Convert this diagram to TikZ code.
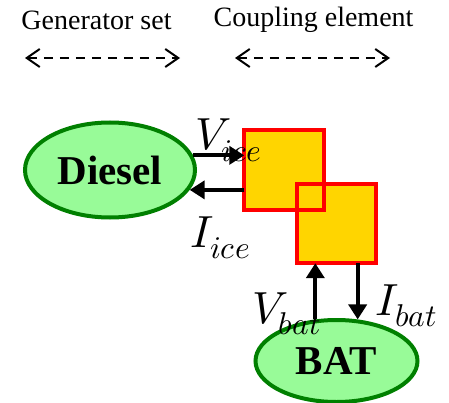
\documentclass[tikz,border=0pt]{standalone}
\usepackage{fontspec,unicode-math}
\setmainfont{Liberation Serif}
\usetikzlibrary{arrows.meta,positioning,shapes.geometric}
\definecolor{engedge}{RGB}{0,128,0}
\definecolor{engfill}{RGB}{152,251,152}
\definecolor{boxfill}{RGB}{255,213,0}
\tikzset{
  source/.style={ellipse,draw=engedge,fill=engfill,line width=4pt,inner sep=0pt,
    font=\rmfamily\fontsize{41}{41}\selectfont\bfseries},
  coupler/.style={rectangle,fill=boxfill,minimum size=79pt,inner sep=0pt},
  couplerline/.style={draw=red,line width=4pt},
  flow/.style={-{Triangle[length=15pt,width=18pt]},line width=4pt},
  span/.style={{Straight Barb[length=13pt,width=18pt]}-{Straight Barb[length=13pt,width=18pt]},
    line width=2pt,dash pattern=on 9pt off 7pt},
  caption/.style={font=\rmfamily\fontsize{28}{28}\selectfont,inner sep=0pt,anchor=base},
  signal/.style={font=\fontsize{45}{45}\selectfont,inner sep=0pt,anchor=base west}
}
\begin{document}
\begin{tikzpicture}[x=1pt,y=1pt]
 \useasboundingbox (0,0) rectangle (449,402);
 % headings
 \node[caption] (gentxt) at (96.5,372) {Generator set};
 \node[caption] (couptxt) at (313.5,375) {Coupling element};
 \coordinate (genl) at (25,344);
 \coordinate (genr) at (180,344);
 \coordinate (coupl) at (235,344);
 \coordinate (coupr) at (390,344);
 \draw[span] (genl) -- (genr);
 \draw[span] (coupl) -- (coupr);
 % sources
 \node[source,minimum width=170pt,minimum height=95pt] (diesel) at (110,232) {Diesel};
 \node[source,minimum width=162pt,minimum height=82pt] (bat) at (336.5,41) {BAT};
 % coupling boxes
 \node[coupler] (box1) at (284,232) {};
 \node[coupler] (box2) at (336.5,178.5) {};
 \foreach \b in {box1,box2}
    \draw[couplerline] (\b.south west) rectangle (\b.north east);
 % signals
 \draw[flow] (diesel.10) -- (diesel.10 -| box1.west);
 \draw[flow] (diesel.-14 -| box1.west) -- (diesel.-14);
 \draw[flow] (bat.117) -- (bat.117 |- box2.south);
 \draw[flow] (bat.63 |- box2.south) -- (bat.63);
 \node[signal] (vice) at (195,252) {$V_{ice}$};
 \node[signal] (iice) at (190,155) {$I_{ice}$};
 \node[signal] (vbat) at (252,79) {$V_{bat}$};
 \node[signal] (ibat) at (375,87) {$I_{bat}$};
\end{tikzpicture}
\end{document}
